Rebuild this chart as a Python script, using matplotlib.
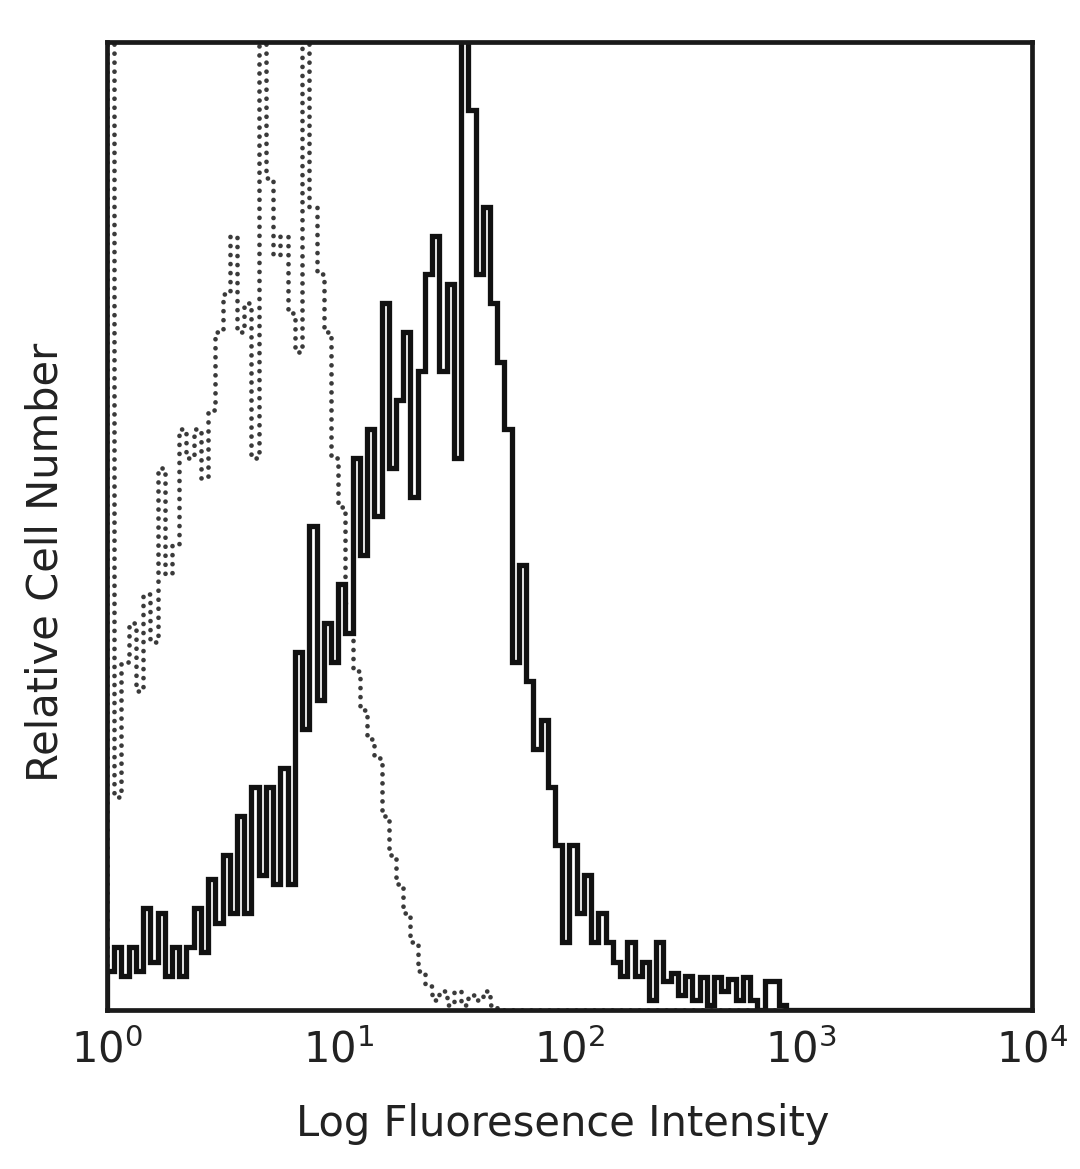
import numpy as np
import matplotlib
matplotlib.use('Agg')
import matplotlib.pyplot as plt

# histogram channels: 32 per decade over 10^0 .. 10^4
bins_per_decade = 32
n_decades = 4

# stained sample (solid), relative counts per channel
stained = [4, 6.5, 3.5, 6.5, 4, 10.5, 5, 10, 3.5, 6.5,
           3.5, 6.5, 10.5, 6, 13.5, 9, 16, 10, 20, 10,
           23, 14, 23, 13, 25, 13, 37, 29, 50, 32,
           40, 36, 44, 39, 57, 47, 60, 51, 73, 56,
           63, 70, 53, 66, 76, 80, 66, 75, 57, 110,
           93, 76, 83, 73, 67, 60, 36, 46, 34, 27,
           30, 23, 17, 7, 17, 10, 14, 7, 10, 7,
           5, 3.5, 7, 3.5, 5, 1, 7, 3, 3.8, 1.5,
           3.5, 1, 3.4, 0.5, 3.4, 2, 3.2, 1, 3.4, 1,
           0, 3, 3, 0.5]

# isotype control (dotted)
control = [120, 22, 36, 40, 33, 43, 38, 56, 45, 48,
           60, 57, 60, 55, 62, 70, 74, 80, 70, 73,
           57, 120, 86, 78, 80, 72, 68, 120, 83, 76,
           70, 57, 52, 42, 35, 31, 28, 26, 20, 16,
           13, 10, 7, 4, 2.5, 1, 2, 0.5, 2, 0.5,
           1.5, 1, 2, 0.5]

tick_exp = [0, 1, 2, 3, 4]

n_bins = bins_per_decade * n_decades
edges = 10 ** (np.arange(n_bins + 1) / bins_per_decade)

def pad(vals):
	out = np.zeros(n_bins)
	out[:len(vals)] = vals
	return out

fig = plt.figure(figsize=(10.8, 11.69), dpi=100)
ax = fig.add_axes([0.099, 0.136, 0.8566, 0.828])

ax.stairs(pad(control), edges, color='#3a3a3a', lw=3.4,
	linestyle=(0, (0.01, 1.9)), capstyle='round')
ax.stairs(pad(stained), edges, color='#111111', lw=3.8)

ax.set_xscale('log')
ax.set_xlim(1, 10 ** n_decades)
ax.set_ylim(0, 100)
ax.set_yticks([])
ax.minorticks_off()
ax.set_xticks([10.0 ** k for k in tick_exp])
ax.set_xticklabels([f'$10^{{{k}}}$' for k in tick_exp], fontsize=30, color='#222222')
ax.tick_params(axis='x', length=0, pad=14)

for s in ax.spines.values():
	s.set_linewidth(3.4)
	s.set_color('#1a1a1a')

fig.text(563 / 1080, 1 - 1124 / 1169, 'Log Fluoresence Intensity',
	ha='center', va='center', fontsize=30, color='#222222')
fig.text(46 / 1080, 1 - 562 / 1169, 'Relative Cell Number',
	ha='center', va='center', rotation=90, fontsize=30, color='#222222')

fig.savefig('out.png', dpi=100)
